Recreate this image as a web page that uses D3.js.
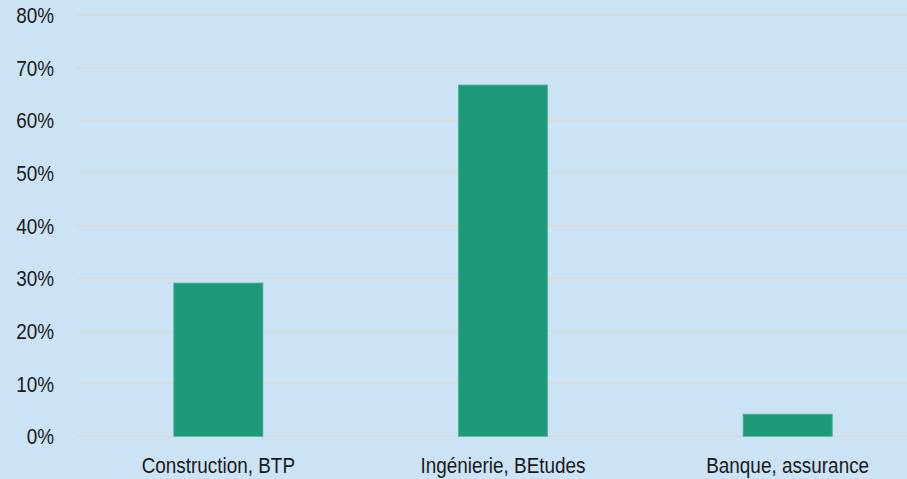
<!DOCTYPE html>
<html><head><meta charset="utf-8">
<script src="https://cdn.jsdelivr.net/npm/d3@7"></script>
<style>html,body{margin:0;padding:0;background:#cce3f5;overflow:hidden}</style>
</head><body><svg id="c" width="907" height="479"></svg>
<script>
const categories = ["Construction, BTP", "Ingénierie, BEtudes", "Banque, assurance"];
const values = [29.1, 66.7, 4.2];
const yTicks = [0, 10, 20, 30, 40, 50, 60, 70, 80];

const svg = d3.select("#c");
svg.append("rect").attr("width", 907).attr("height", 479).attr("fill", "#cce3f5");
const x = d3.scaleBand().domain(categories).range([76, 930]).paddingInner(0.687).paddingOuter(0.3435);
const y = d3.scaleLinear().domain([0, 80]).range([436.3, 15]);

svg.append("g").selectAll("line").data(yTicks).join("line")
  .attr("x1", 77).attr("x2", 907)
  .attr("y1", d => y(d)).attr("y2", d => y(d))
  .attr("stroke", "#d9dad4").attr("stroke-width", 1.6);

svg.append("g").selectAll("rect").data(values).join("rect")
  .attr("x", (d, i) => x(categories[i]))
  .attr("width", x.bandwidth())
  .attr("y", d => y(d))
  .attr("height", d => y(0) - y(d))
  .attr("fill", "#1f9a79").attr("stroke", "#45b596").attr("stroke-width", 0.8);

const font = "'Liberation Sans', Arial, sans-serif";
svg.append("g").selectAll("g").data(yTicks).join("g")
  .attr("transform", d => `translate(54,${y(d)}) scale(0.86,1)`)
  .append("text").attr("text-anchor", "end").attr("dy", "0.36em")
  .attr("font-family", font).attr("font-size", 22).attr("fill", "#1a1a1a")
  .text(d => d + "%");

svg.append("g").selectAll("g").data(categories).join("g")
  .attr("transform", d => `translate(${x(d) + x.bandwidth() / 2},473) scale(0.86,1)`)
  .append("text").attr("text-anchor", "middle")
  .attr("font-family", font).attr("font-size", 22).attr("fill", "#1a1a1a")
  .text(d => d);
</script></body></html>
